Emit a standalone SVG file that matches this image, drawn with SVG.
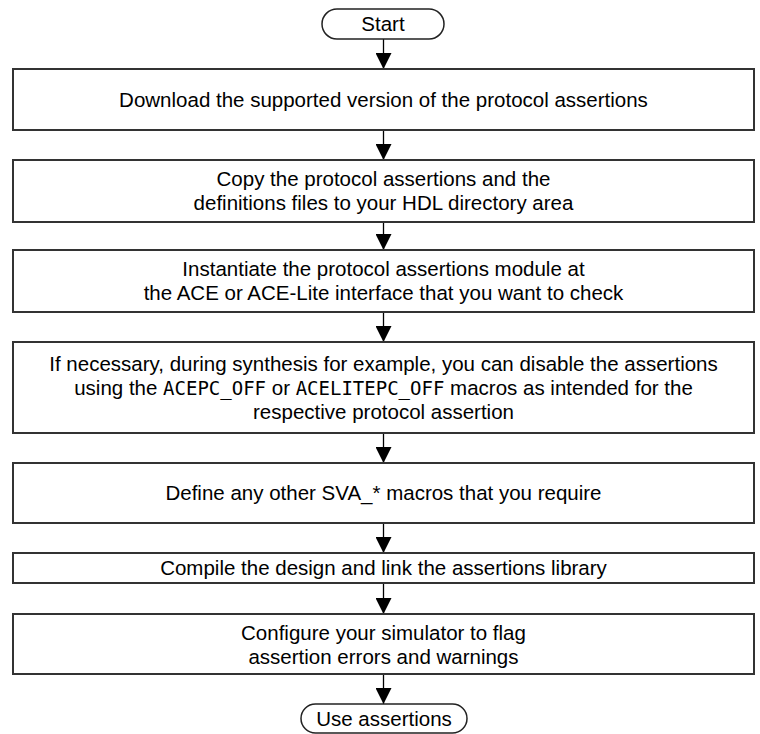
<svg xmlns="http://www.w3.org/2000/svg" width="760" height="734" viewBox="0 0 760 734">
<defs>
<style>
.box{fill:#fff;stroke:#333;stroke-width:2}
.pill{fill:#fff;stroke:#222;stroke-width:1.5}
.t{font-family:"Liberation Sans",Arial,sans-serif;font-size:20.5px;fill:#000;text-anchor:middle}
.m{font-family:"DejaVu Sans Mono","Liberation Mono",monospace;font-size:19px}
.c{stroke:#000;stroke-width:1.3;fill:none;marker-end:url(#ah)}
</style>
<marker id="ah" viewBox="0 0 16 16" refX="16" refY="8" markerWidth="16" markerHeight="16" markerUnits="userSpaceOnUse" orient="auto">
<path d="M0,0 L16,8 L0,16 Z" fill="#000"/>
</marker>
</defs>
<rect width="760" height="734" fill="#fff"/>
<g id="connectors">
<line class="c" x1="383.5" y1="39" x2="383.5" y2="69"/>
<line class="c" x1="383.5" y1="130" x2="383.5" y2="160"/>
<line class="c" x1="383.5" y1="222" x2="383.5" y2="250"/>
<line class="c" x1="383.5" y1="312" x2="383.5" y2="342"/>
<line class="c" x1="383.5" y1="433" x2="383.5" y2="463"/>
<line class="c" x1="383.5" y1="523" x2="383.5" y2="553"/>
<line class="c" x1="383.5" y1="583" x2="383.5" y2="614"/>
<line class="c" x1="383.5" y1="674" x2="383.5" y2="704"/>
</g>
<g id="start">
<rect class="pill" x="322" y="9" width="122" height="30" rx="15"/>
<text class="t" x="383" y="31">Start</text>
</g>
<g id="n1">
<rect class="box" x="13" y="69" width="741" height="61"/>
<text class="t" x="383.5" y="107">Download the supported version of the protocol assertions</text>
</g>
<g id="n2">
<rect class="box" x="13" y="160" width="741" height="62"/>
<text class="t" x="383.5" y="186">Copy the protocol assertions and the</text>
<text class="t" x="383.5" y="210">definitions files to your HDL directory area</text>
</g>
<g id="n3">
<rect class="box" x="13" y="250" width="741" height="62"/>
<text class="t" x="383.5" y="276">Instantiate the protocol assertions module at</text>
<text class="t" x="383.5" y="300">the ACE or ACE-Lite interface that you want to check</text>
</g>
<g id="n4">
<rect class="box" x="13" y="342" width="741" height="91"/>
<text class="t" x="383.5" y="371">If necessary, during synthesis for example, you can disable the assertions</text>
<text class="t" x="383.5" y="395">using the <tspan class="m">ACEPC_OFF</tspan> or <tspan class="m">ACELITEPC_OFF</tspan> macros as intended for the</text>
<text class="t" x="383.5" y="419">respective protocol assertion</text>
</g>
<g id="n5">
<rect class="box" x="13" y="463" width="741" height="60"/>
<text class="t" x="383.5" y="500">Define any other SVA_* macros that you require</text>
</g>
<g id="n6">
<rect class="box" x="13" y="553" width="741" height="30"/>
<text class="t" x="383.5" y="575">Compile the design and link the assertions library</text>
</g>
<g id="n7">
<rect class="box" x="13" y="614" width="741" height="60"/>
<text class="t" x="383.5" y="640">Configure your simulator to flag</text>
<text class="t" x="383.5" y="664">assertion errors and warnings</text>
</g>
<g id="end">
<rect class="pill" x="301" y="704" width="166" height="29" rx="14.5"/>
<text class="t" x="384" y="726">Use assertions</text>
</g>
</svg>
